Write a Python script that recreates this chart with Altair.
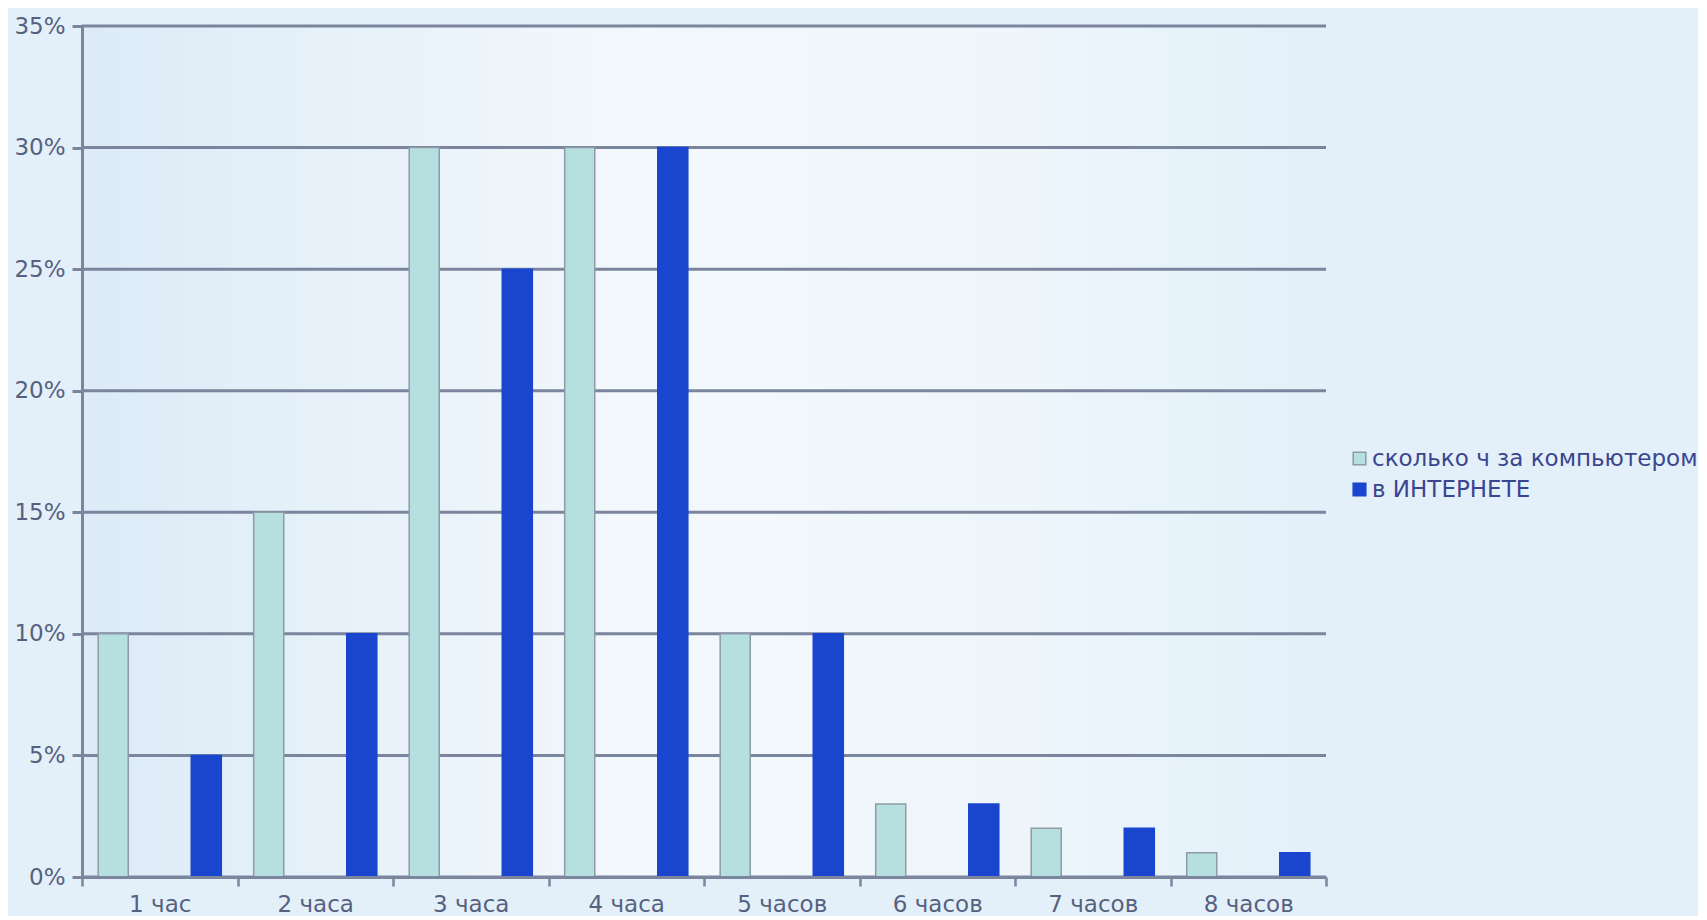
import altair as alt
import pandas as pd

categories = ["1 час", "2 часа", "3 часа", "4 часа", "5 часов", "6 часов", "7 часов", "8 часов"]
series = ["сколько ч за компьютером", "в ИНТЕРНЕТЕ"]
computer = [10, 15, 30, 30, 10, 3, 2, 1]
internet = [5, 10, 25, 30, 10, 3, 2, 1]
y_ticks = [0, 0.05, 0.10, 0.15, 0.20, 0.25, 0.30, 0.35]

fill_colors = ["#b6dfdf", "#1a46cf"]
stroke_colors = ["#8e9aa8", "#1a46cf"]

rows = []
for c, a, b in zip(categories, computer, internet):
    rows.append({"cat": c, "series": series[0], "value": a / 100})
    rows.append({"cat": c, "series": series[1], "value": b / 100})
df = pd.DataFrame(rows)
grid_df = pd.DataFrame({"v": y_ticks})

W, H = 1244, 851
grid = "#7b859d"
label_color = "#56617f"
font = "DejaVu Sans"

bg = alt.Chart(alt.Data(values=[{"a": 1}])).mark_rect(
    color=alt.LinearGradient(
        gradient="linear",
        stops=[
            alt.GradientStop(color="#dcebf7", offset=0),
            alt.GradientStop(color="#f3f8fc", offset=0.45),
            alt.GradientStop(color="#eef6fb", offset=0.75),
            alt.GradientStop(color="#e2f0f9", offset=1),
        ],
        x1=0, x2=1, y1=0, y2=0,
    )
).encode(x=alt.value(0), x2=alt.value(W), y=alt.value(0), y2=alt.value(H))

gridlines = alt.Chart(grid_df).mark_rule(color=grid, strokeWidth=3).encode(
    y=alt.Y("v:Q", scale=alt.Scale(domain=[0, 0.35])),
    x=alt.value(0), x2=alt.value(W),
)

legend = alt.Legend(
    title=None, orient="none", legendX=1266, legendY=421,
    labelFontSize=23, labelFont=font, labelColor="#3a4590", labelLimit=0,
    symbolType="square", symbolSize=160, symbolStrokeWidth=1.5,
    rowPadding=7, padding=0, labelOffset=1,
)

bars = alt.Chart(df).mark_bar(strokeWidth=1.5).encode(
    x=alt.X(
        "cat:N", sort=categories,
        scale=alt.Scale(paddingInner=0, paddingOuter=0),
        axis=alt.Axis(
            title=None, labelAngle=0, tickBand="extent", grid=False,
            domainColor=grid, domainWidth=3, tickColor=grid, tickWidth=2.5,
            tickSize=9, labelPadding=7, labelFontSize=23, labelFont=font,
            labelColor=label_color, zindex=1,
        ),
    ),
    xOffset=alt.XOffset(
        "series:N", sort=series,
        scale=alt.Scale(domain=series, paddingInner=0.677, paddingOuter=0.174),
    ),
    y=alt.Y(
        "value:Q",
        scale=alt.Scale(domain=[0, 0.35]),
        axis=alt.Axis(
            title=None, format=".0%", values=y_ticks, grid=False,
            domainColor=grid, domainWidth=3,
            tickColor=grid, tickWidth=3, tickSize=10, labelPadding=7,
            labelFontSize=23, labelFont=font, labelColor=label_color, zindex=1,
        ),
    ),
    color=alt.Color("series:N", sort=series,
                    scale=alt.Scale(domain=series, range=fill_colors), legend=legend),
    stroke=alt.Stroke("series:N", sort=series,
                      scale=alt.Scale(domain=series, range=stroke_colors), legend=legend),
)

chart = alt.layer(bg, gridlines, bars).properties(
    width=W, height=H,
    background="#e4f0f9",
    padding={"left": 5, "top": 7, "right": 0, "bottom": 0},
).configure_view(stroke=None)

chart.save("out.html", embed_options={"renderer": "svg", "actions": False})
